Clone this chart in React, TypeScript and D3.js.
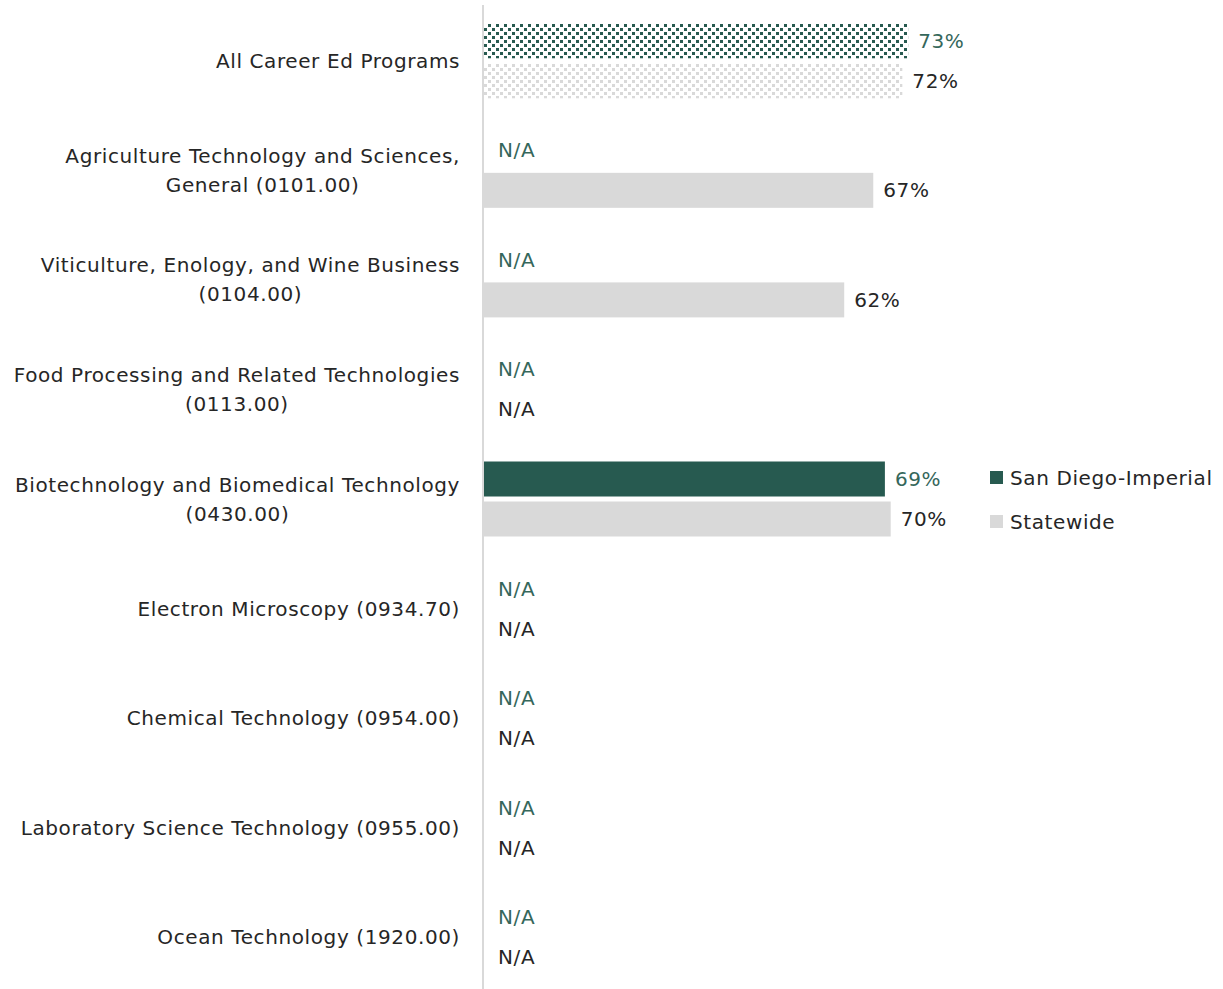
import { useEffect, useRef } from 'react';
import * as d3 from 'd3';

const categories: string[][] = [
  ['All Career Ed Programs'],
  ['Agriculture Technology and Sciences,', 'General (0101.00)'],
  ['Viticulture, Enology, and Wine Business', '(0104.00)'],
  ['Food Processing and Related Technologies', '(0113.00)'],
  ['Biotechnology and Biomedical Technology', '(0430.00)'],
  ['Electron Microscopy (0934.70)'],
  ['Chemical Technology (0954.00)'],
  ['Laboratory Science Technology (0955.00)'],
  ['Ocean Technology (1920.00)'],
];

const regionValues: (number | null)[] = [73, null, null, null, 69, null, null, null, null];
const statewideValues: (number | null)[] = [72, 67, 62, null, 70, null, null, null, null];

const seriesNames = ['San Diego-Imperial', 'Statewide'];

const W = 1223;
const H = 989;
const FONT = '"DejaVu Sans", sans-serif';
const FS = 20;
const LS = '0.6px';
const GREEN = '#275a50';
const GRAY = '#d9d9d9';
const GREEN_TEXT = '#35675b';
const DARK_TEXT = '#262626';

export default function App() {
  const svgRef = useRef<SVGSVGElement>(null);

  useEffect(() => {
    document.body.style.margin = '0';
    if (!svgRef.current) return;
    const svg = d3.select(svgRef.current);
    svg.selectAll('*').remove();

    const x = d3.scaleLinear().domain([0, 100]).range([484, 1065]);
    const y = d3
      .scaleBand<number>()
      .domain(categories.map((_, i) => i))
      .range([6, 992]);
    const barH = 35;
    const gap = 5;

    // patterns for the "All programs" bars
    const defs = svg.append('defs');
    const makePattern = (id: string, color: string) => {
      const p = defs
        .append('pattern')
        .attr('id', id)
        .attr('patternUnits', 'userSpaceOnUse')
        .attr('width', 8)
        .attr('height', 8);
      p.append('rect').attr('width', 8).attr('height', 8).attr('fill', '#fff');
      [
        [0, 0],
        [4, 4],
      ].forEach(([px, py]) => {
        p.append('rect').attr('x', px).attr('y', py).attr('width', 3).attr('height', 3).attr('fill', color);
      });
    };
    makePattern('patGreen', GREEN);
    makePattern('patGray', GRAY);

    const g = svg.append('g');

    categories.forEach((lines, i) => {
      const c = (y(i) as number) + y.bandwidth() / 2;
      const series = [
        { v: regionValues[i], fill: i === 0 ? 'url(#patGreen)' : GREEN, text: GREEN_TEXT, top: c - gap / 2 - barH },
        { v: statewideValues[i], fill: i === 0 ? 'url(#patGray)' : GRAY, text: DARK_TEXT, top: c + gap / 2 },
      ];
      series.forEach((s) => {
        if (s.v != null) {
          g.append('rect')
            .attr('x', x(0))
            .attr('y', s.top)
            .attr('width', x(s.v) - x(0))
            .attr('height', barH)
            .attr('fill', s.fill);
        }
        g.append('text')
          .attr('x', s.v != null ? x(s.v) + 10 : x(0) + 14)
          .attr('y', s.top + barH / 2)
          .attr('dominant-baseline', 'central')
          .attr('font-family', FONT)
          .attr('font-size', FS)
          .attr('letter-spacing', LS)
          .attr('fill', s.text)
          .text(s.v != null ? `${s.v}%` : 'N/A');
      });

      // category label: lines centered in a right-aligned block
      const label = g.append('g');
      const lh = 29;
      const t0 = c - ((lines.length - 1) * lh) / 2;
      const texts = lines.map((ln, k) =>
        label
          .append('text')
          .attr('y', t0 + k * lh)
          .attr('dominant-baseline', 'central')
          .attr('text-anchor', 'middle')
          .attr('font-family', FONT)
          .attr('font-size', FS)
          .attr('letter-spacing', LS)
          .attr('fill', DARK_TEXT)
          .text(ln)
      );
      const maxW = d3.max(texts, (t) => (t.node() as SVGTextElement).getComputedTextLength()) || 0;
      texts.forEach((t) => t.attr('x', 460 - maxW / 2));
    });

    // axis line
    svg
      .append('line')
      .attr('x1', x(0) - 1)
      .attr('x2', x(0) - 1)
      .attr('y1', 5)
      .attr('y2', H)
      .attr('stroke', GRAY)
      .attr('stroke-width', 2);

    // legend
    const legend = svg.append('g').attr('transform', 'translate(990,471)');
    seriesNames.forEach((name, i) => {
      const row = legend.append('g').attr('transform', `translate(0,${i * 44})`);
      row.append('rect').attr('width', 13).attr('height', 13).attr('fill', i === 0 ? GREEN : GRAY);
      row
        .append('text')
        .attr('x', 20)
        .attr('y', 7)
        .attr('dominant-baseline', 'central')
        .attr('font-family', FONT)
        .attr('font-size', FS)
        .attr('letter-spacing', LS)
        .attr('fill', DARK_TEXT)
        .text(name);
    });
  }, []);

  return <svg ref={svgRef} width={W} height={H} style={{ display: 'block', background: '#fff' }} />;
}
